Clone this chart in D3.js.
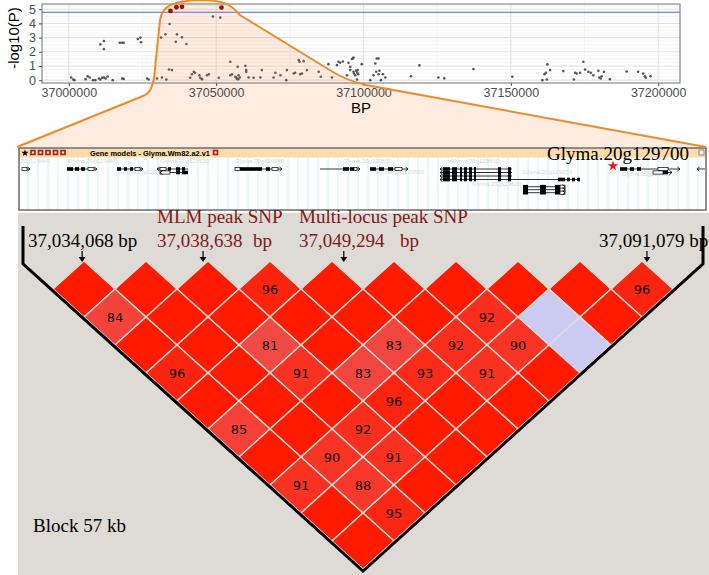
<!DOCTYPE html>
<html lang="en">
<head>
<meta charset="utf-8">
<script src="https://cdn.jsdelivr.net/npm/d3@7"></script>
<style>
  body { margin: 0; background: #fff; }
  svg { display: block; }
  .serif { font-family: "Liberation Serif", "Times New Roman", serif; }
  .axis text { font-family: "Liberation Sans", Arial, sans-serif; font-size: 12.5px; fill: #4d4d4d; }
  .axis line { stroke: #4d4d4d; }
  .axis path { display: none; }
</style>
</head>
<body>
<script>
// ---- GWAS scan (position in kb, -log10 P) ----
const gwasPoints = [
  [37000.8,0.19],[37001.5,0.05],[37001.9,0.0],[37005.7,0.07],[37006.4,0.28],[37007.1,0.19],[37008.2,0.0],[37009.0,0.0],
  [37010.2,0.12],[37010.7,0.05],[37011.3,0.17],[37011.9,0.19],[37012.5,0.12],[37013.2,0.26],[37010.7,2.52],[37011.9,2.76],
  [37011.9,2.19],[37014.9,0.0],[37017.3,2.64],[37018.1,2.64],[37018.6,2.64],[37018.1,0.12],[37018.6,0.09],[37023.4,2.9],
  [37024.3,3.0],[37024.5,2.67],[37026.6,0.12],[37027.1,0.05],[37029.9,0.12],[37031.6,0.19],[37033.1,0.05],[37031.3,3.0],
  [37032.8,3.23],[37034.2,3.96],[37034.0,0.75],[37035.0,0.71],[37036.7,3.23],[37036.3,2.71],[37038.4,3.02],[37039.9,2.55],
  [37041.2,0.17],[37041.8,0.42],[37042.4,0.59],[37042.8,0.52],[37044.3,0.35],[37044.6,0.17],[37045.2,0.07],[37046.9,0.35],
  [37047.5,0.42],[37048.9,4.48],[37051.4,4.41],[37050.9,0.17],[37054.8,1.3],[37054.8,0.35],[37055.4,0.42],[37056.5,0.24],
  [37056.8,0.17],[37057.1,0.09],[37057.5,0.07],[37057.6,0.35],[37058.0,0.19],[37057.3,0.94],[37059.9,1.01],[37060.2,0.71],
  [37060.2,0.59],[37061.0,0.19],[37062.7,0.17],[37065.5,0.71],[37065.0,0.19],[37069.5,0.19],[37070.1,0.52],[37071.8,0.35],
  [37073.8,0.0],[37074.0,0.71],[37076.3,0.47],[37076.8,0.52],[37078.0,1.42],[37078.3,1.3],[37079.7,1.34],[37078.5,0.42],
  [37079.1,0.47],[37080.8,0.71],[37084.8,0.59],[37085.5,0.24],[37088.1,1.13],[37089.3,0.19],[37091.0,1.06],[37091.5,1.3],
  [37092.1,1.23],[37093.0,1.32],[37094.9,1.23],[37095.5,0.94],[37096.1,1.49],[37096.6,1.6],[37096.8,0.47],[37097.5,0.66],
  [37097.9,0.52],[37094.4,0.35],[37096.4,1.53],[37095.5,0.71],[37096.6,0.59],[37097.2,0.35],[37097.8,0.05],[37098.0,0.71],
  [37098.2,0.42],[37099.4,1.13],[37102.3,0.0],[37103.4,0.35],[37104.0,1.18],[37104.5,1.53],[37105.1,1.53],[37104.3,0.59],
  [37105.1,0.42],[37105.4,0.66],[37105.9,0.0],[37106.6,0.42],[37107.4,0.19],[37116.1,0.28],[37119.0,1.04],[37125.4,0.19],
  [37127.4,0.14],[37137.3,0.78],[37150.5,0.24],[37160.7,0.0],[37161.4,0.42],[37161.9,0.52],[37162.2,0.05],[37162.4,1.11],
  [37163.3,0.71],[37167.8,0.64],[37171.4,0.05],[37171.8,0.52],[37172.3,0.47],[37173.5,0.52],[37174.6,1.3],[37175.2,0.75],
  [37176.3,0.59],[37177.1,0.52],[37178.0,0.35],[37179.7,0.66],[37180.0,0.19],[37180.5,0.12],[37180.8,0.28],[37181.6,0.59],
  [37183.6,0.07],[37189.3,0.61],[37193.2,0.59],[37194.9,0.47],[37195.5,0.28],[37195.8,0.17],[37197.4,0.28]
];
const peakPoints = [[37034.5,4.88],[37036.5,5.14],[37038.4,5.17],[37051.8,5.12]];
const threshold = 4.79;
const xTicks = [37000, 37050, 37100, 37150, 37200];
const yTicks = [0, 1, 2, 3, 4, 5];

// ---- gene models (kb) ----
const geneRowsY = [169, 172.5, 176, 179.5, 186.7, 189.7, 192.7];
const tx9Exons = [[37072.1,37072.8],[37073.0,37073.5],[37073.8,37074.0],[37074.2,37074.5],[37074.7,37075.0],[37075.2,37075.4],[37077.6,37077.9],[37078.6,37078.9]];
const tx10Exons = [[37080.1,37080.6],[37081.8,37082.4],[37083.3,37083.8]];
const genes = [
  {row:0, s:37030.0, e:37030.8, dir:1, ex:[], utr:[[37030.0,37030.5]]},
  {row:0, s:37034.5, e:37037.5, dir:1, ex:[[37034.5,37035.1],[37035.3,37035.7],[37035.9,37036.3]], utr:[[37036.6,37037.2]]},
  {row:0, s:37039.5, e:37042.1, dir:1, ex:[[37039.5,37039.9],[37040.2,37040.5],[37040.8,37041.1]], utr:[[37041.3,37041.8]]},
  {row:0, s:37043.5, e:37046.6, dir:-1, ex:[[37044.6,37044.9],[37045.4,37045.8],[37046.0,37046.3]], utr:[[37043.8,37044.4]]},
  {row:1, s:37043.8, e:37046.6, dir:-1, ex:[[37045.4,37045.8],[37046.0,37046.6]], utr:[[37043.8,37044.8]]},
  {row:0, s:37051.3, e:37056.0, dir:1, ex:[[37051.8,37054.0],[37054.4,37054.8]], utr:[[37051.3,37051.8],[37055.0,37055.6]]},
  {row:0, s:37059.8, e:37063.8, dir:1, ex:[[37062.1,37062.7],[37062.8,37063.2]], utr:[[37063.2,37063.5]]},
  {row:0, s:37064.8, e:37068.6, dir:1, ex:[[37064.8,37065.4],[37065.7,37066.2],[37066.6,37067.1]], utr:[[37067.3,37068.0]]},
  {row:0, s:37071.8, e:37079.0, dir:-1, ex:tx9Exons, utr:[]},
  {row:1, s:37071.8, e:37079.0, dir:-1, ex:tx9Exons, utr:[]},
  {row:2, s:37071.8, e:37079.0, dir:-1, ex:tx9Exons, utr:[]},
  {row:3, s:37071.8, e:37085.8, dir:-1, ex:tx9Exons.concat([[37083.6,37084.3],[37084.5,37084.8],[37085.0,37085.3],[37085.5,37085.8]]), utr:[]},
  {row:4, s:37080.1, e:37084.3, dir:1, ex:tx10Exons, utr:[[37083.8,37084.3]]},
  {row:5, s:37080.1, e:37084.3, dir:1, ex:tx10Exons, utr:[[37083.8,37084.3]]},
  {row:6, s:37080.1, e:37084.3, dir:1, ex:tx10Exons, utr:[[37083.8,37084.3]]},
  {row:0, s:37089.8, e:37095.8, dir:1, ex:[[37089.8,37090.5],[37090.8,37091.2],[37091.5,37091.9]], utr:[[37093.6,37094.6]]},
  {row:1, s:37093.1, e:37095.0, dir:1, ex:[[37094.1,37094.6]], utr:[[37093.1,37094.1]]},
  {row:0, s:37097.5, e:37098.3, dir:-1, ex:[], utr:[]}
];
// faint gene names: [kb, baseline y, anchor, name]
const geneLabels = [
  [37032.8, 162.5, "end", "Glyma.20g129460"], [37034.6, 162.5, "start", "Glyma.20g129480"],
  [37039.6, 174, "start", "Glyma.20g129500"], [37043.8, 162.5, "start", "Glyma.20g129520"],
  [37051.3, 162.5, "start", "Glyma.20g129540"], [37062.1, 162.5, "start", "Glyma.20g129560"],
  [37065.3, 174, "start", "Glyma.20g129580"], [37072.8, 162.5, "start", "Glyma.20g129600"],
  [37075.0, 186, "start", "Glyma.20g129620"], [37080.1, 174, "start", "Glyma.20g129650"],
  [37090.0, 176, "start", "Glyma.20g129700"]
];

// ---- LD block (D' x 100), row k holds pairs (i, i+k) ----
const nMarkers = 11;
const dprimeRows = [
  [100,100,100,96,100,100,100,100,100,96],
  [84,100,100,100,100,100,92,100,100],
  [100,100,81,100,83,92,90,100],
  [96,100,91,83,93,91,100],
  [100,100,100,96,100,100],
  [85,100,92,100,100],
  [100,90,91,100],
  [91,88,100],
  [100,95],
  [100]
];
const lowLodPairs = [[7,9],[7,10]];
const snpNotes = [
  {at:0.47, color:"#000", lines:[[28,"37,034,068 bp"]]},
  {at:2.42, color:"#821818", lines:[[157,"MLM peak SNP"],[157,"37,038,638"],[253,"bp"]]},
  {at:4.69, color:"#821818", lines:[[299,"Multi-locus peak SNP"],[299,"37,049,294"],[400,"bp"]]},
  {at:9.58, color:"#000", lines:[[599,"37,091,079 bp"]]}
];

const W = 709, H = 575;
const svg = d3.select("body").append("svg").attr("width", W).attr("height", H);

// ================= Manhattan panel =================
const mp = {left:42, right:680, top:4, bottom:83};
const x = d3.scaleLinear().domain([36990.9, 37207.4]).range([mp.left, mp.right]);
const y = d3.scaleLinear().domain([-0.2, 5.37]).range([mp.bottom, mp.top]);

svg.append("rect").attr("x", mp.left).attr("y", mp.top)
  .attr("width", mp.right - mp.left).attr("height", mp.bottom - mp.top).attr("fill", "#fff");

let grid = svg.append("g");
grid.selectAll("line.hy").data(d3.range(0, 5.3, 0.25)).enter().append("line")
  .attr("x1", mp.left).attr("x2", mp.right)
  .attr("y1", d => y(d)).attr("y2", d => y(d))
  .attr("stroke", d => d % 1 === 0 ? "#e3e3e3" : "#efefef").attr("stroke-width", d => d % 1 === 0 ? 1.1 : 0.7);
grid.selectAll("line.vx").data(d3.range(37000, 37201, 25)).enter().append("line")
  .attr("y1", mp.top).attr("y2", mp.bottom)
  .attr("x1", d => x(d)).attr("x2", d => x(d))
  .attr("stroke", d => d % 50 === 0 ? "#e3e3e3" : "#efefef").attr("stroke-width", d => d % 50 === 0 ? 1.1 : 0.7);

svg.append("line").attr("x1", mp.left).attr("x2", mp.right)
  .attr("y1", y(threshold)).attr("y2", y(threshold))
  .attr("stroke", "#4466f5").attr("stroke-width", 1);

svg.selectAll("circle.snp").data(gwasPoints).enter().append("circle")
  .attr("cx", d => x(d[0])).attr("cy", d => y(d[1])).attr("r", 1.3).attr("fill", "#555");
svg.selectAll("circle.peak").data(peakPoints).enter().append("circle")
  .attr("cx", d => x(d[0])).attr("cy", d => y(d[1])).attr("r", 2.4).attr("fill", "#8b0000");

// zoom connector to gene track
const conn = "M17,147 L143,96 C150,93 152,88 154,78 L160,20 C162,6 172,1 200,0 C222,0 231,4 240,15 L328,69 C342,78 352,82 366,85 L706,147";
svg.append("path").attr("d", conn + " Z").attr("fill", "rgba(240,125,40,0.15)");

svg.append("rect").attr("x", mp.left).attr("y", mp.top)
  .attr("width", mp.right - mp.left).attr("height", mp.bottom - mp.top)
  .attr("fill", "none").attr("stroke", "#7f7f7f").attr("stroke-width", 1.1);

svg.append("g").attr("class", "axis")
  .attr("transform", "translate(0," + mp.bottom + ")")
  .call(d3.axisBottom(x).tickValues(xTicks).tickSize(3).tickPadding(2).tickFormat(d => d3.format("d")(d * 1000)));
svg.append("g").attr("class", "axis")
  .attr("transform", "translate(" + mp.left + ",0)")
  .call(d3.axisLeft(y).tickValues(yTicks).tickSize(3).tickFormat(d3.format("d")));

svg.append("text").attr("x", (mp.left + mp.right) / 2).attr("y", 112.5).attr("text-anchor", "middle")
  .attr("font-family", "Liberation Sans, Arial, sans-serif").attr("font-size", 15).text("BP");
svg.append("text").attr("transform", "translate(18.5,38) rotate(-90)").attr("text-anchor", "middle")
  .attr("font-family", "Liberation Sans, Arial, sans-serif").attr("font-size", 15).text("-log10(P)");

// ================= Gene model track =================
const gx = d3.scaleLinear().domain([37030.0, 37098.4]).range([22, 706]);
const gb = {x:19, y:148, w:687, h:62};
svg.append("clipPath").attr("id", "gclip").append("rect")
  .attr("x", gb.x).attr("y", gb.y).attr("width", gb.w).attr("height", gb.h);
svg.append("rect").attr("x", gb.x).attr("y", gb.y).attr("width", gb.w).attr("height", gb.h).attr("fill", "#fff");
svg.selectAll("line.cy").data(d3.range(37030.6, 37098.4, 1)).enter().append("line")
  .attr("x1", d => gx(d)).attr("x2", d => gx(d)).attr("y1", 158).attr("y2", gb.y + gb.h)
  .attr("stroke", "#c6ecf2").attr("stroke-width", 0.8);
svg.append("rect").attr("x", gb.x).attr("y", gb.y).attr("width", gb.w).attr("height", 9.5).attr("fill", "#fcdcaa");

svg.append("g").attr("clip-path", "url(#gclip)")
  .selectAll("text").data(geneLabels).enter().append("text")
  .attr("x", d => gx(d[0])).attr("y", d => d[1]).attr("text-anchor", d => d[2]).attr("font-size", 6)
  .attr("font-family", "Liberation Sans, Arial, sans-serif").attr("fill", "#d6d6d6").text(d => d[3]);

svg.append("rect").attr("x", gb.x).attr("y", gb.y).attr("width", gb.w).attr("height", gb.h)
  .attr("fill", "none").attr("stroke", "#6b6b6b").attr("stroke-width", 1.5);
svg.append("path").attr("d", conn).attr("fill", "none").attr("stroke", "#ef8a2a").attr("stroke-width", 2);

// header icons and title
svg.append("path").attr("d", d3.symbol(d3.symbolStar, 16)()).attr("transform", "translate(25,153)").attr("fill", "#000");
[30.5, 38, 45.5, 53, 60.5, 213].forEach(ix => {
  svg.append("rect").attr("x", ix).attr("y", 150).attr("width", 5).attr("height", 5).attr("fill", "#cc2222").attr("stroke", "#7a1010").attr("stroke-width", 0.5);
  svg.append("rect").attr("x", ix + 1.5).attr("y", 151.5).attr("width", 2).attr("height", 2).attr("fill", "#fff");
});
svg.append("rect").attr("x", 699).attr("y", 150).attr("width", 5).attr("height", 5).attr("fill", "#eee").attr("stroke", "#555").attr("stroke-width", 0.6);
svg.append("text").attr("x", 90).attr("y", 156).attr("font-family", "Liberation Sans, Arial, sans-serif")
  .attr("font-size", 7.4).attr("font-weight", "bold").text("Gene models - Glyma.Wm82.a2.v1");

const gg = svg.append("g");
genes.forEach(g => {
  const gy = geneRowsY[g.row];
  gg.append("line").attr("x1", gx(g.s)).attr("x2", gx(g.e)).attr("y1", gy).attr("y2", gy).attr("stroke", "#000").attr("stroke-width", 0.8);
  g.ex.forEach(e => gg.append("rect").attr("x", gx(e[0])).attr("y", gy - 1.8).attr("width", gx(e[1]) - gx(e[0])).attr("height", 3.6).attr("fill", "#000"));
  g.utr.forEach(e => gg.append("rect").attr("x", gx(e[0])).attr("y", gy - 1.6).attr("width", gx(e[1]) - gx(e[0])).attr("height", 3.2).attr("fill", "#fff").attr("stroke", "#000").attr("stroke-width", 0.7));
  const ax = g.dir > 0 ? gx(g.e) : gx(g.s);
  gg.append("path").attr("d", "M" + (ax - 2.5 * g.dir) + "," + (gy - 2) + " L" + ax + "," + gy + " L" + (ax - 2.5 * g.dir) + "," + (gy + 2))
    .attr("fill", "none").attr("stroke", "#000").attr("stroke-width", 0.8);
});

svg.append("text").attr("class", "serif").attr("x", 547).attr("y", 160).attr("font-size", 19).text("Glyma.20g129700");
svg.append("path").attr("d", d3.symbol(d3.symbolStar, 34)()).attr("transform", "translate(613,166)").attr("fill", "#e8141e");

// ================= LD block =================
svg.append("rect").attr("x", 18).attr("y", 213).attr("width", W - 18).attr("height", H - 213).attr("fill", "#dedad5");

const mx = d3.scaleLinear().domain([0, nMarkers - 1]).range([53, 673]);
const ly = d3.scaleLinear().domain([0, nMarkers - 1]).range([261, 541]);
const hw = (mx(1) - mx(0)) / 2, hh = ly(1) - ly(0);
const dpColor = d3.scaleLinear().domain([80, 100]).range(["#f04d48", "#ff1a00"]).clamp(true);
const isLow = (i, j) => lowLodPairs.some(p => p[0] === i && p[1] === j);

let cells = [];
dprimeRows.forEach((row, r) => row.forEach((v, i) => cells.push({i: i, j: i + r + 1, v: v})));

const ld = svg.append("g");
ld.selectAll("path.cell").data(cells).enter().append("path")
  .attr("d", d => {
    const cx = (mx(d.i) + mx(d.j)) / 2, cy = ly(d.j - d.i);
    return "M" + cx + "," + (cy - hh) + "L" + (cx + hw) + "," + cy + "L" + cx + "," + (cy + hh) + "L" + (cx - hw) + "," + cy + "Z";
  })
  .attr("fill", d => isLow(d.i, d.j) ? "#cacaf2" : dpColor(d.v))
  .attr("stroke", "#e2ded8").attr("stroke-width", 1.4);
ld.selectAll("text.dp").data(cells.filter(d => d.v < 100)).enter().append("text")
  .attr("x", d => (mx(d.i) + mx(d.j)) / 2).attr("y", d => ly(d.j - d.i) + 1)
  .attr("text-anchor", "middle").attr("dominant-baseline", "middle")
  .attr("font-family", "DejaVu Sans, sans-serif").attr("font-size", 13).attr("fill", "#111")
  .text(d => d.v);

// outline of the block
const tipX = (mx(0) + mx(nMarkers - 1)) / 2, tipY = ly(nMarkers - 1) + hh;
const slope = hh / hw;
const off = 2;
svg.append("path")
  .attr("d", "M23,226 L23," + (tipY + off - slope * (tipX - 23)) + " L" + tipX + "," + (tipY + off) +
    " L703," + (tipY + off - slope * (703 - tipX)) + " L703,226")
  .attr("fill", "none").attr("stroke", "#000").attr("stroke-width", 3);

// SNP annotations
snpNotes.forEach(n => {
  const ax = mx(n.at);
  n.lines.forEach((l, k) => {
    const row = n.lines.length === 1 ? 1 : Math.min(k, 1);
    svg.append("text").attr("class", "serif").attr("x", l[0]).attr("y", row === 0 ? 223 : 247)
      .attr("font-size", 19).attr("fill", n.color).text(l[1]);
  });
  svg.append("line").attr("x1", ax).attr("x2", ax).attr("y1", 251).attr("y2", 258).attr("stroke", "#000").attr("stroke-width", 1.2);
  svg.append("path").attr("d", "M" + (ax - 3.5) + ",257 L" + (ax + 3.5) + ",257 L" + ax + ",262 Z").attr("fill", "#000");
});

svg.append("text").attr("class", "serif").attr("x", 33).attr("y", 532).attr("font-size", 19).text("Block 57 kb");
</script>
</body>
</html>
